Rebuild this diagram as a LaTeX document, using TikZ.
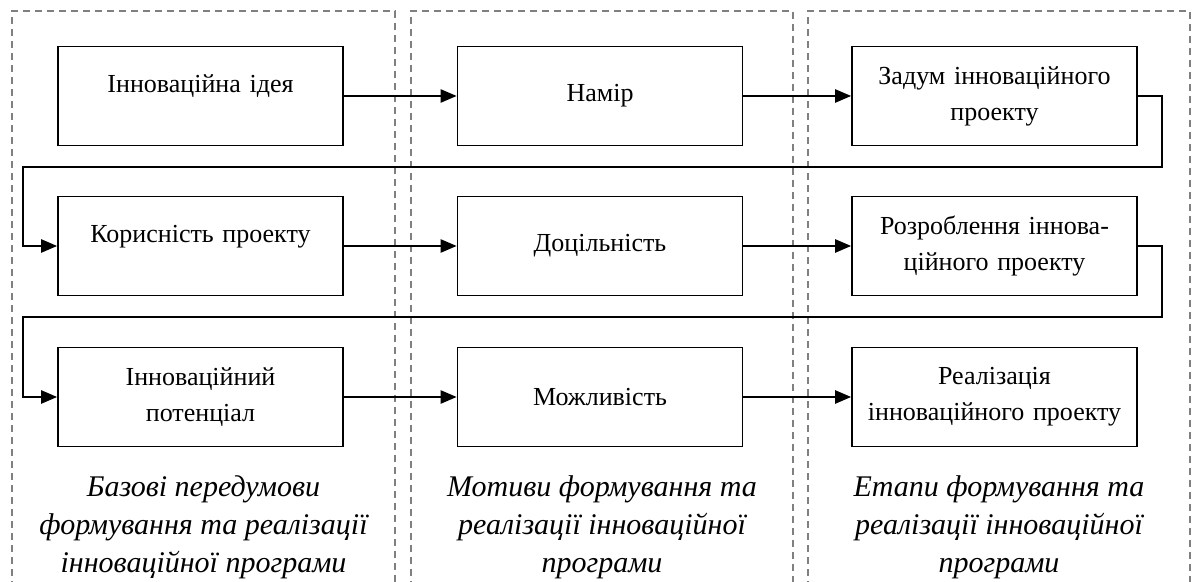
\documentclass[tikz,border=0pt]{standalone}
\usepackage{fontspec}
\setmainfont{Liberation Serif}
\usetikzlibrary{arrows.meta}

\tikzset{
  stage/.style={draw, line width=0.8pt, minimum width=142.5pt, minimum height=49.5pt,
    text width=135pt, align=center, inner sep=0pt, font=\fontsize{13}{18}\selectfont},
  link/.style={line width=1.1pt, -{Triangle[length=8pt,width=6.5pt]}},
  panel/.style={gray, line width=0.6pt, dash pattern=on 3.5pt off 2.5pt},
  caption/.style={align=center, font=\itshape\fontsize{15}{19}\selectfont}
}

\begin{document}
\begin{tikzpicture}[x=0.5pt,y=-0.5pt]
\clip (0,0) rectangle (1195,582);

% columns
\draw[panel] (12,600) |- (395,11) -- (395,600);
\draw[panel] (411,600) |- (793,11) -- (793,600);
\draw[panel] (808,600) |- (1190,11) -- (1190,600);

% left column
\node[stage] (idea) at (200.5,96) {Інноваційна ідея\\[-6pt]\mbox{}};
\node[stage] (benefit) at (200.5,246) {Корисність проекту\\[-6pt]\mbox{}};
\node[stage] (potential) at (200.5,397) {Інноваційний\\потенціал};

% middle column
\node[stage] (intent) at (600,96) {Намір};
\node[stage] (expedience) at (600,246) {Доцільність};
\node[stage] (possibility) at (600,397) {Можливість};

% right column
\node[stage] (concept) at (994.5,96) {Задум інноваційного\\проекту};
\node[stage] (design) at (994.5,246) {Розроблення іннова-\\ційного проекту};
\node[stage] (launch) at (994.5,397) {Реалізація\\інноваційного проекту};

\draw[link] (idea) -- (intent);
\draw[link] (intent) -- (concept);
\draw[link] (benefit) -- (expedience);
\draw[link] (expedience) -- (design);
\draw[link] (potential) -- (possibility);
\draw[link] (possibility) -- (launch);

% wrap-around links
\coordinate (r1) at (1162,167);
\coordinate (l1) at (23,167);
\coordinate (r2) at (1162,317);
\coordinate (l2) at (23,317);
\draw[link] (concept.east) -| (r1) -- (l1) |- (benefit.west);
\draw[link] (design.east) -| (r2) -- (l2) |- (potential.west);

% captions
\node[caption] (cap1) at (203.5,527) {Базові передумови\\формування та реалізації\\інноваційної програми};
\node[caption] (cap2) at (602,527) {Мотиви формування та\\реалізації інноваційної\\програми};
\node[caption] (cap3) at (999,527) {Етапи формування та\\реалізації інноваційної\\програми};
\end{tikzpicture}
\end{document}
